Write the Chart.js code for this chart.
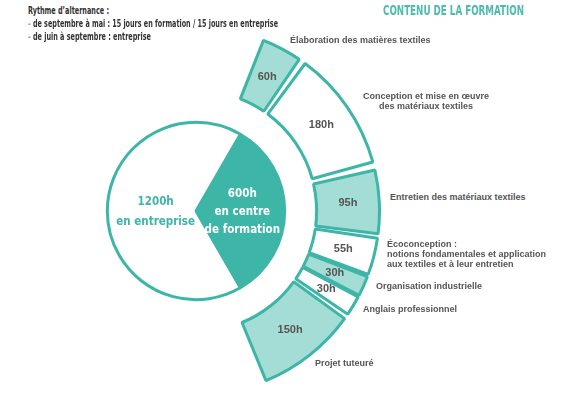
<!DOCTYPE html>
<html>
<head>
<meta charset="utf-8">
<script src="https://cdn.jsdelivr.net/npm/chart.js@4.4.1/dist/chart.umd.min.js"></script>
<style>
  html, body { margin:0; padding:0; background:#fff; }
  body { width:580px; height:394px; position:relative; overflow:hidden; font-family:"Liberation Sans", Arial, sans-serif; }
  #wrap { position:absolute; left:11px; top:26px; width:370px; height:370px; }
  .lbl { position:absolute; font-size:9px; font-weight:bold; color:#555; line-height:10px; white-space:nowrap; }
  .narrow { position:absolute; white-space:nowrap; font-family:"Liberation Sans Narrow","DejaVu Sans Condensed",sans-serif; transform-origin:0 50%; }
</style>
</head>
<body>
<div id="wrap"><canvas id="c" width="370" height="370"></canvas></div>
<div id="notes"></div>
<script>
// ---- data ----
const ringCategories = [
  'Élaboration des matières textiles',
  'Conception et mise en œuvre\ndes matériaux textiles',
  'Entretien des matériaux textiles',
  'Écoconception :\nnotions fondamentales et application\naux textiles et à leur entretien',
  'Organisation industrielle',
  'Anglais professionnel',
  'Projet tuteuré'
];
const ringHours = [60, 180, 95, 55, 30, 30, 150];
const splitCategories = ['en centre\nde formation', 'en entreprise'];
const splitHours = [600, 1200];
const title = 'CONTENU  DE LA FORMATION';
const rhythmLines = [
  'Rythme d\u2019alternance :',
  'de septembre à mai : 15 jours en formation  / 15 jours en entreprise',
  'de juin à septembre : entreprise'
];

// ---- styles ----
const TEAL = '#3db5a7';
const LIGHT = '#a4ddd5';
const ringFills = ringHours.map((_, i) => i % 2 === 0 ? LIGHT : '#ffffff');
const labelPos = [
  {left:290, top:35, align:'left'},
  {left:363, top:91, align:'center', width:126},
  {left:390, top:192, align:'left'},
  {left:387, top:239, align:'left'},
  {left:376, top:281, align:'left'},
  {left:363, top:304, align:'left'},
  {left:315, top:358, align:'left'}
];

const notes = document.getElementById('notes');
ringCategories.forEach((t, i) => {
  const d = document.createElement('div');
  d.className = 'lbl';
  const p = labelPos[i];
  d.style.left = p.left + 'px';
  d.style.top = p.top + 'px';
  d.style.textAlign = p.align;
  if (p.width) d.style.width = p.width + 'px';
  d.innerHTML = t.split('\n').map(s => s.replace(/&/g,'&amp;')).join('<br>');
  notes.appendChild(d);
});

// title
const tt = document.createElement('div');
tt.className = 'narrow';
tt.textContent = title;
Object.assign(tt.style, {left:'383px', top:'3px', fontSize:'13.5px', fontWeight:'bold', color:'#4bbcae', lineHeight:'15px'});
notes.appendChild(tt);

// rhythm text
const ry = [10, 23.5, 36];
const rw = [81, 250, 123];
const rEls = [];
rhythmLines.forEach((t, i) => {
  const d = document.createElement('div');
  d.className = 'narrow';
  Object.assign(d.style, {left:'28px', top:(ry[i]-6.5)+'px', fontSize:'11px', fontWeight:'bold', color:'#333', lineHeight:'13px'});
  if (i === 0) d.textContent = t;
  else d.innerHTML = '<span style="color:#8a9e9b">-</span> ' + t;
  notes.appendChild(d);
  rEls.push(d);
});

function fit(el, w) {
  const cw = el.getBoundingClientRect().width;
  if (cw > 0) el.style.transform = 'scaleX(' + (w / cw) + ')';
}
fit(tt, 141);
rEls.forEach((el, i) => fit(el, rw[i]));

const valuePlugin = {
  id: 'values',
  afterDatasetsDraw(chart) {
    const ctx = chart.ctx;
    ctx.save();
    ctx.textAlign = 'center';
    ctx.textBaseline = 'middle';
    const ring = chart.getDatasetMeta(0);
    ctx.font = 'bold 11px "Liberation Sans", Arial, sans-serif';
    ctx.fillStyle = '#555';
    ring.data.forEach((arc, i) => {
      const p = arc.tooltipPosition();
      ctx.fillText(ringHours[i] + 'h', p.x, p.y);
    });
    const pie = chart.getDatasetMeta(2);
    ctx.font = 'bold 11.5px "Liberation Sans Narrow", "DejaVu Sans Condensed", sans-serif';
    pie.data.forEach((arc, i) => {
      const p = arc.tooltipPosition();
      const lines = [splitHours[i] + 'h'].concat(splitCategories[i].split('\n'));
      ctx.fillStyle = i === 0 ? '#ffffff' : TEAL;
      const lh = i === 0 ? 18 : 20;
      const y0 = p.y - (lines.length - 1) * lh / 2;
      lines.forEach((s, k) => ctx.fillText(s, p.x + (i === 0 ? 2 : 4), y0 + k * lh + 1));
    });
    ctx.restore();
  }
};

new Chart(document.getElementById('c'), {
  type: 'doughnut',
  data: {
    labels: ringCategories,
    datasets: [
      {
        data: ringHours,
        backgroundColor: ringFills,
        borderColor: TEAL,
        borderWidth: 3,
        spacing: 24,
        rotation: 21,
        circumference: 138,
        weight: 66
      },
      {
        data: [1],
        backgroundColor: 'rgba(0,0,0,0)',
        borderWidth: 0,
        weight: 27
      },
      {
        data: splitHours,
        backgroundColor: [TEAL, '#ffffff'],
        borderColor: TEAL,
        borderWidth: 3,
        spacing: 0,
        rotation: 30,
        weight: 87
      }
    ]
  },
  options: {
    responsive: false,
    animation: false,
    cutout: 0,
    layout: { padding: 0 },
    events: [],
    plugins: { legend: { display: false }, tooltip: { enabled: false } }
  },
  plugins: [valuePlugin]
});
</script>
</body>
</html>
